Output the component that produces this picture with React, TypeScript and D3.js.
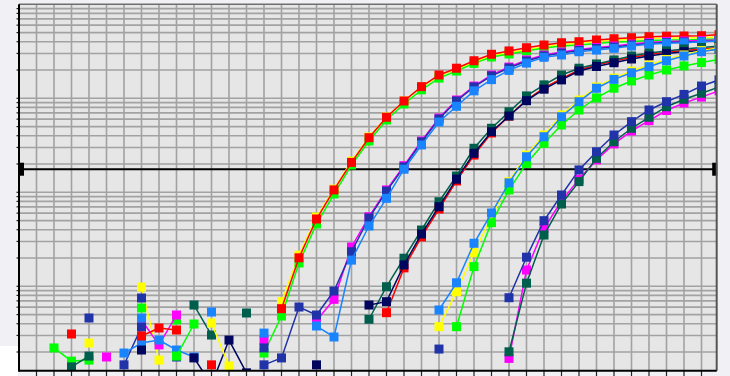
import React from "react";
import * as d3 from "d3";

const _ = null;

// amplification cycles 1..40
const cycles = d3.range(1, 41);
const threshold = 0.176;

// dilution 1
const red1 = [
  _, _, 0.00311, _, _, _, _, _, _, _,
  _, _, _, _, 0.00578, 0.0201, 0.052, 0.106, 0.208, 0.381,
  0.628, 0.936, 1.33, 1.77, 2.09, 2.51, 2.94, 3.19, 3.45, 3.69,
  3.9, 4.0, 4.17, 4.3, 4.41, 4.52, 4.58, 4.6, 4.63, 4.75,
];
const green1 = [
  _, 0.00221, 0.0016, 0.00164, _, _, 0.00588, _, 0.00438, _,
  _, _, _, 0.00195, 0.00483, 0.0177, 0.046, 0.0959, 0.195, 0.351,
  0.588, 0.87, 1.23, 1.64, 1.95, 2.35, 2.75, 2.96, 3.19, 3.43,
  3.6, 3.69, 3.83, 3.97, 4.02, 4.12, 4.17, 4.17, 4.22, 4.27,
];
const yellow1 = [
  _, _, _, 0.00249, _, _, 0.00983, 0.00164, _, _,
  _, _, _, _, 0.00686, 0.0215, 0.0546, 0.108, 0.215, 0.388,
  0.633, 0.936, 1.32, 1.73, 2.05, 2.43, 2.82, 3.07, 3.3, 3.51,
  3.74, 3.88, 4.02, 4.17, 4.22, 4.33, 4.38, 4.38, 4.43, 4.49,
];

// dilution 2
const magenta2 = [
  _, _, _, _, 0.00177, _, 0.00438, 0.00238, 0.00495, _,
  _, _, _, 0.00268, _, _, 0.00431, 0.00727, 0.0262, 0.055,
  0.106, 0.192, 0.351, 0.617, 0.959, 1.35, 1.77, 2.15, 2.56, 2.89,
  3.11, 3.3, 3.47, 3.6, 3.78, 3.92, 4.02, 4.07, 4.12, 4.17,
];
const lightblue2 = [
  _, _, _, _, _, 0.00195, 0.00249, 0.00268, 0.0021, 0.00177,
  _, _, _, 0.00318, _, _, 0.00378, 0.00289, 0.019, 0.0438,
  0.0863, 0.176, 0.319, 0.56, 0.822, 1.2, 1.58, 1.98, 2.37, 2.73,
  2.89, 3.13, 3.26, 3.4, 3.6, 3.75, 3.85, 3.9, 4.0, 4.07,
];
const blue2 = [
  _, _, _, 0.0046, _, 0.00146, 0.00369, _, 0.00177, _,
  _, _, _, 0.00146, 0.00173, 0.00602, 0.00495, 0.00891, 0.0233, 0.0533,
  0.103, 0.186, 0.343, 0.602, 0.936, 1.32, 1.73, 2.1, 2.49, 2.82,
  3.03, 3.22, 3.39, 3.51, 3.69, 3.83, 3.92, 3.97, 4.02, 4.07,
];

// dilution 3
const teal3 = [
  _, _, _, _, _, _, _, _, _, 0.00632,
  0.00303, _, 0.0052, _, _, _, _, _, _, 0.00446,
  0.0099, 0.0199, 0.0397, 0.0794, 0.149, 0.294, 0.48, 0.72, 1.06, 1.39,
  1.77, 2.09, 2.32, 2.56, 2.82, 3.03, 3.19, 3.35, 3.47, 3.6,
];
const navy3 = [
  _, _, _, _, _, _, 0.0021, _, _, 0.00173,
  0.0009, 0.00268, 0.0012, _, _, _, 0.00146, _, _, 0.00632,
  0.00686, 0.0169, 0.036, 0.0703, 0.138, 0.26, 0.441, 0.648, 0.943, 1.25,
  1.57, 1.95, 2.18, 2.39, 2.62, 2.82, 3.0, 3.13, 3.22, 3.35,
];
const red3 = [
  _, _, _, _, _, _, 0.00296, 0.0036, 0.00343, _,
  0.00146, _, _, _, _, _, _, _, _, _,
  0.00524, 0.0157, 0.0335, 0.0664, 0.132, 0.249, 0.428, 0.648, 0.959, 1.29,
  1.62, 2.0, 2.26, 2.49, 2.72, 2.92, 3.11, 3.22, 3.35, 3.47,
];

// dilution 4
const yellow4 = [
  _, _, _, _, _, _, _, _, _, _,
  0.00407, 0.00142, _, _, _, _, _, _, _, _,
  _, _, _, 0.00372, 0.00876, 0.0228, 0.0546, 0.13, 0.249, 0.407,
  0.664, 0.959, 1.32, 1.64, 1.95, 2.26, 2.59, 2.89, 3.22, 3.43,
];
const lightblue4 = [
  _, _, _, _, _, _, 0.0046, _, _, _,
  0.00533, _, _, _, _, _, _, _, _, _,
  _, _, _, 0.0056, 0.0109, 0.0287, 0.0602, 0.126, 0.239, 0.39,
  0.637, 0.92, 1.28, 1.59, 1.87, 2.17, 2.51, 2.82, 3.13, 3.35,
];
const green4 = [
  _, _, _, _, _, _, _, _, 0.00181, 0.00397,
  _, _, _, _, _, _, _, _, _, _,
  _, _, _, _, 0.00372, 0.0162, 0.0475, 0.106, 0.203, 0.332,
  0.52, 0.751, 1.01, 1.28, 1.53, 1.77, 2.0, 2.21, 2.4, 2.59,
];

// dilution 5
const blue5 = [
  _, _, _, _, _, _, 0.00751, _, _, _,
  _, _, _, 0.00221, _, _, _, _, _, _,
  _, _, _, 0.00215, _, _, _, 0.00756, 0.0204, 0.0499,
  0.0936, 0.173, 0.27, 0.407, 0.564, 0.751, 0.92, 1.1, 1.35, 1.57,
];
const magenta5 = [
  _, _, _, _, _, _, _, _, _, _,
  _, _, _, _, _, _, _, _, _, _,
  _, _, _, _, _, _, _, 0.00171, 0.0149, 0.0414,
  0.0808, 0.138, 0.221, 0.327, 0.449, 0.578, 0.742, 0.891, 1.03, 1.2,
];
const teal5 = [
  _, _, 0.00139, 0.00181, _, _, _, _, _, _,
  _, _, _, _, _, _, _, _, _, _,
  _, _, _, _, _, _, _, 0.00201, 0.0108, 0.0351,
  0.0751, 0.13, 0.23, 0.345, 0.48, 0.628, 0.814, 0.976, 1.13, 1.32,
];

const RED = "#ff0000";
const GREEN = "#00ff00";
const YELLOW = "#ffff00";
const MAGENTA = "#ff00ff";
const LIGHTBLUE = "#1a84ff";
const BLUE = "#2133a8";
const NAVY = "#00065e";
const TEAL = "#005f4c";

// draw order (later on top)
const series = [
  { values: yellow1, color: YELLOW },
  { values: green1, color: GREEN },
  { values: red1, color: RED },
  { values: magenta2, color: MAGENTA },
  { values: blue2, color: BLUE },
  { values: lightblue2, color: LIGHTBLUE },
  { values: red3, color: RED },
  { values: teal3, color: TEAL },
  { values: navy3, color: NAVY },
  { values: yellow4, color: YELLOW },
  { values: green4, color: GREEN },
  { values: lightblue4, color: LIGHTBLUE },
  { values: magenta5, color: MAGENTA },
  { values: teal5, color: TEAL },
  { values: blue5, color: BLUE },
];

export default function App() {
  const width = 730;
  const height = 376;
  const left = 19;
  const right = 716.7;
  const top = 4.3;
  const bottom = 370.7;

  const x = d3.scaleLinear().domain([0, 40]).range([19, 719]);
  const y = d3.scaleLog().domain([0.001, 10]).range([380.3, 4.3]);

  const gridX = d3.range(1, 40);
  const gridY: number[] = [];
  for (let k = -3; k <= 0; k++) {
    for (let m = 1; m <= 9; m++) gridY.push(m * Math.pow(10, k));
  }
  const gridYIn = gridY.filter((v) => y(v) > top + 1 && y(v) < bottom - 1);

  const line = d3
    .line<number | null>()
    .defined((d) => d != null)
    .x((d, i) => x(cycles[i]))
    .y((d) => y(d as number));

  const ms = 9;

  return (
    <svg
      width={width}
      height={height}
      style={{ position: "absolute", left: 0, top: 0 }}
    >
      <defs>
        <clipPath id="plot">
          <rect x={left} y={top} width={right - left} height={bottom - top} />
        </clipPath>
      </defs>
      <rect width={width} height={height} fill="#f1f1f5" />
      <rect x={0} y={346} width={left - 1} height={height - 346} fill="#ffffff" />
      <rect x={left} y={top} width={right - left} height={bottom - top} fill="#e6e6e6" />

      <g stroke="#a2a2a2" strokeWidth={1.6}>
        {gridX.map((c) => (
          <line key={"gx" + c} x1={x(c)} x2={x(c)} y1={top} y2={bottom} />
        ))}
        {gridYIn.map((v, i) => (
          <line key={"gy" + i} x1={left} x2={right} y1={y(v)} y2={y(v)} />
        ))}
      </g>

      {/* axis stubs */}
      <g stroke="#222" strokeWidth={1.2}>
        {gridYIn.map((v, i) => (
          <line key={"ty" + i} x1={16.5} x2={left} y1={y(v)} y2={y(v)} />
        ))}
        {gridX.map((c) => (
          <line key={"tx" + c} x1={x(c)} x2={x(c)} y1={bottom} y2={height} />
        ))}
      </g>

      <line x1={left} x2={right} y1={y(threshold)} y2={y(threshold)} stroke="#000" strokeWidth={2} />

      <g clipPath="url(#plot)">
        {series.map((s, si) => (
          <g key={si}>
            <path d={line(s.values) || ""} fill="none" stroke={s.color} strokeWidth={1.5} />
            {s.values.map((v, i) =>
              v == null ? null : (
                <rect
                  key={i}
                  x={x(cycles[i]) - ms / 2}
                  y={y(v) - ms / 2}
                  width={ms}
                  height={ms}
                  fill={s.color}
                />
              )
            )}
          </g>
        ))}
      </g>

      <rect x={left} y={y(threshold) - 6.5} width={5} height={13} fill="#000" />
      <rect x={right - 4.5} y={y(threshold) - 6.5} width={5} height={13} fill="#000" />

      <line x1={left} x2={right} y1={top} y2={top} stroke="#6e6e6e" strokeWidth={1.5} />
      <line x1={right} x2={right} y1={top} y2={bottom} stroke="#555" strokeWidth={2} />
      <line x1={left} x2={left} y1={top} y2={bottom + 1} stroke="#000" strokeWidth={2} />
      <line x1={left} x2={right} y1={bottom} y2={bottom} stroke="#000" strokeWidth={2} />
    </svg>
  );
}
